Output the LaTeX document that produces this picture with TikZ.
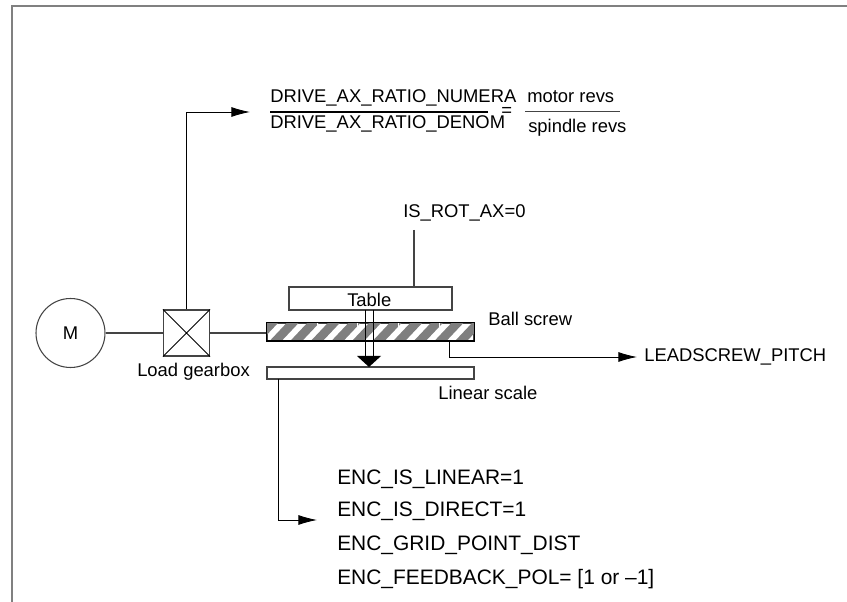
\documentclass[tikz,border=0pt]{standalone}
\usepackage{fontspec}
\setmainfont{Liberation Sans}
\usetikzlibrary{arrows.meta}
\definecolor{framegray}{HTML}{808080}
\definecolor{hatchgray}{HTML}{7F7F7F}
\definecolor{linedark}{HTML}{444444}
\tikzset{
  partbox/.style={draw=linedark, line width=0.8pt, inner sep=0pt},
  caption/.style={inner sep=0pt, anchor=base west, font=\fontsize{13.8pt}{15pt}\selectfont},
  enccaption/.style={caption, font=\fontsize{15.7pt}{17pt}\selectfont},
  linkline/.style={draw=linedark, line width=0.9pt},
  signalline/.style={black, line width=0.65pt, -{Latex[length=14pt,width=7.5pt]}}
}
\begin{document}
\begin{tikzpicture}[x=0.75pt,y=-0.75pt]
\useasboundingbox (0,0) rectangle (847,602);
% frame, open on the right
\draw[framegray, line width=1.5pt] (12,602) -- (12,6) -- (847,6);

% drive train
\node[partbox, circle, minimum size=51.75pt] (motor) at (70.5,333) {\fontsize{13.8pt}{15pt}\selectfont M};
\node[partbox, minimum width=34.5pt, minimum height=34.5pt] (gearbox) at (186.5,333) {};
\draw[black, line width=0.6pt] (gearbox.north west) -- (gearbox.south east)
  (gearbox.north east) -- (gearbox.south west);
\node[partbox, minimum width=155.25pt, minimum height=12.75pt] (screw) at (370.5,332) {};
\node[partbox, minimum width=122.25pt, minimum height=17.25pt] (table) at (370.5,298.5) {};
\node[partbox, minimum width=155.25pt, minimum height=9pt] (scale) at (370.5,373) {};
\draw[linkline] (motor) -- (gearbox);
\draw[linkline] (gearbox) -- (gearbox -| screw.west);

% hatching of the screw
\begin{scope}
  \clip (screw.north west) rectangle (screw.south east);
  \foreach \xpos in {0,...,11}
    \fill[hatchgray] (249+20.6*\xpos,341) -- (261+20.6*\xpos,341) -- (278+20.6*\xpos,323) -- (266+20.6*\xpos,323) -- cycle;
  \foreach \xpos in {317,357,398,439}
    \draw[white, line width=0.5pt] (\xpos,323) -- (\xpos,331);
\end{scope}
\draw[black, line width=0.8pt] (screw.north west) rectangle (screw.south east);

% table pushes onto the scale
\coordinate (shaftL) at (365,310);
\coordinate (shaftR) at (373,310);
\draw[black, line width=0.7pt] (shaftL) -- ++(0,46) (shaftR) -- ++(0,46);
\fill[black] (357,356) -- (381,356) -- (369,367) -- cycle;

% labels at the parts
\node[caption] (tablelabel) at (347,307) {Table};
\node[caption] (gearlabel) at (137,377) {Load gearbox};
\node[caption] (screwlabel) at (488,326) {Ball screw};
\node[caption] (scalelabel) at (438,400) {Linear scale};
\node[caption] (rotlabel) at (403,218) {IS\_ROT\_AX=0};
\coordinate (rotfoot) at (414,230);
\draw[linkline] (rotfoot) -- (rotfoot |- table.north);

% gear ratio
\coordinate (ratiotip) at (250,112);
\draw[signalline] (gearbox.north) |- (ratiotip);
\node[caption] (numera) at (270,103) {DRIVE\_AX\_RATIO\_NUMERA};
\node[caption] (denom) at (270,129) {DRIVE\_AX\_RATIO\_DENOM};
\draw[black, line width=0.8pt] (270,112) -- (488,112);
\node[caption] (ratioeq) at (501,117) {=};
\node[caption] (motorrevs) at (527,103) {motor revs};
\node[caption] (spindlerevs) at (528,133) {spindle revs};
\draw[linedark, line width=0.6pt] (525,111) -- (620,111);

% pitch
\node[caption] (pitchlabel) at (644,362) {LEADSCREW\_PITCH};
\coordinate (pitchroot) at (449,341);
\coordinate (pitchtip) at (637,357);
\draw[signalline] (pitchroot) |- (pitchtip);

% encoder
\coordinate (encroot) at (278,379);
\coordinate (enctip) at (317,520);
\draw[signalline] (encroot) |- (enctip);
\node[enccaption] (encline) at (337,484) {ENC\_IS\_LINEAR=1};
\node[enccaption] (encdirect) at (337,517) {ENC\_IS\_DIRECT=1};
\node[enccaption] (encgrid) at (337,551) {ENC\_GRID\_POINT\_DIST};
\node[enccaption] (encpol) at (337,584) {ENC\_FEEDBACK\_POL= [1 or –1]};
\end{tikzpicture}
\end{document}
